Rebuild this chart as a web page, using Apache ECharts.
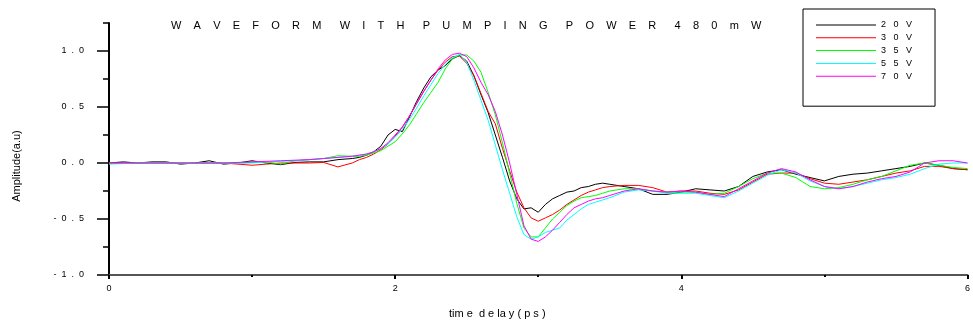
<!DOCTYPE html>
<html><head><meta charset="utf-8">
<script src="https://cdn.jsdelivr.net/npm/echarts@6/dist/echarts.min.js"></script>
<style>html,body{margin:0;padding:0;background:#fff}#c{width:973px;height:325px}</style>
</head><body><div id="c"></div>
<script>
// time delay (ps)
const timeDelay = [0,0.1,0.2,0.3,0.4,0.5,0.6,0.7,0.8,0.9,1.0,1.1,1.2,1.3,1.4,1.5,1.6,1.7,
1.75,1.8,1.85,1.9,1.95,2.0,2.05,2.1,2.15,2.2,2.25,2.3,2.35,2.4,2.45,2.5,2.55,2.6,2.65,2.7,2.75,2.8,2.85,2.9,2.95,3.0,3.05,3.1,3.15,3.2,3.25,3.3,3.35,3.4,3.45,3.5,
3.6,3.7,3.8,3.9,4.0,4.1,4.2,4.3,4.4,4.5,4.6,4.7,4.8,4.9,5.0,5.1,5.2,5.3,5.4,5.5,5.6,5.7,5.8,5.9,6.0];

const amp20V = [0,0.01,0,0.01,0.01,-0.01,0,0.02,-0.01,0,0.02,0,-0.015,0.005,0.01,0.01,0.03,0.04,
0.05,0.07,0.10,0.15,0.25,0.30,0.28,0.41,0.55,0.67,0.77,0.83,0.87,0.93,0.96,0.91,0.78,0.61,0.45,0.25,0.05,-0.16,-0.32,-0.41,-0.40,-0.44,-0.37,-0.32,-0.29,-0.26,-0.25,-0.22,-0.21,-0.19,-0.18,-0.19,
-0.21,-0.23,-0.28,-0.28,-0.26,-0.23,-0.24,-0.25,-0.21,-0.12,-0.08,-0.06,-0.10,-0.13,-0.16,-0.12,-0.10,-0.09,-0.07,-0.05,-0.03,0.0,-0.02,-0.05,-0.06];

const amp30V = [0,0,0,0,0,0,0,0,0,-0.01,-0.02,-0.01,0,0,0,0.005,-0.035,0.0,
0.03,0.05,0.08,0.12,0.17,0.24,0.32,0.42,0.53,0.64,0.74,0.83,0.90,0.95,0.955,0.89,0.78,0.62,0.46,0.35,0.13,-0.07,-0.26,-0.40,-0.49,-0.52,-0.49,-0.46,-0.42,-0.37,-0.33,-0.29,-0.26,-0.24,-0.22,-0.21,
-0.20,-0.20,-0.22,-0.26,-0.25,-0.25,-0.27,-0.28,-0.24,-0.17,-0.10,-0.09,-0.09,-0.14,-0.18,-0.19,-0.17,-0.15,-0.12,-0.09,-0.07,-0.03,-0.03,-0.05,-0.06];

const amp35V = [0,-0.005,0,0,0,0,-0.005,0,0,0,0.005,0.01,-0.01,0.02,0.03,0.04,0.065,0.06,
0.06,0.07,0.09,0.11,0.15,0.19,0.26,0.34,0.44,0.54,0.63,0.72,0.84,0.93,0.965,0.965,0.91,0.81,0.63,0.43,0.18,-0.09,-0.36,-0.58,-0.66,-0.66,-0.58,-0.50,-0.44,-0.38,-0.34,-0.31,-0.30,-0.29,-0.27,-0.25,
-0.23,-0.23,-0.25,-0.26,-0.26,-0.26,-0.28,-0.27,-0.21,-0.14,-0.09,-0.09,-0.13,-0.21,-0.23,-0.22,-0.19,-0.15,-0.12,-0.07,-0.02,0.0,-0.02,-0.04,-0.05];

const amp55V = [-0.01,-0.005,0,0,0,0,0,0,0,0,0,0.01,0.015,0.02,0.03,0.04,0.05,0.06,
0.07,0.08,0.10,0.13,0.17,0.23,0.30,0.39,0.49,0.60,0.70,0.80,0.88,0.94,0.97,0.90,0.74,0.56,0.38,0.16,-0.06,-0.27,-0.48,-0.64,-0.68,-0.66,-0.62,-0.60,-0.58,-0.51,-0.46,-0.41,-0.37,-0.35,-0.33,-0.31,
-0.26,-0.24,-0.25,-0.27,-0.27,-0.27,-0.29,-0.31,-0.25,-0.18,-0.11,-0.06,-0.09,-0.16,-0.21,-0.23,-0.21,-0.18,-0.15,-0.13,-0.10,-0.05,-0.01,0.0,0.0];

const amp70V = [0,0,0,0,0,0,0,0,0,0.005,0.01,0.015,0.02,0.025,0.03,0.04,0.05,0.06,
0.07,0.08,0.10,0.13,0.18,0.25,0.32,0.42,0.53,0.64,0.74,0.84,0.92,0.97,0.98,0.95,0.85,0.72,0.61,0.46,0.25,0.0,-0.28,-0.56,-0.68,-0.70,-0.66,-0.60,-0.53,-0.46,-0.40,-0.37,-0.34,-0.32,-0.31,-0.29,
-0.25,-0.23,-0.25,-0.26,-0.25,-0.26,-0.28,-0.30,-0.23,-0.16,-0.09,-0.05,-0.08,-0.15,-0.21,-0.23,-0.21,-0.17,-0.14,-0.12,-0.08,0.0,0.02,0.02,0.0];

const seriesNames = ['20V','30V','35V','55V','70V'];
const seriesColors = ['#000000','#ff0000','#00ff00','#00ffff','#ff00ff'];
const seriesValues = [amp20V, amp30V, amp35V, amp55V, amp70V];

const yMajorTicks = [-1,-0.5,0,0.5,1];
const yMinorTicks = [-0.75,-0.25,0.25,0.75,1.25];

const titleWords = ['WAVEFORM','WITH','PUMPING','POWER','480mW'];
const xName = 'tim e  d e la y ( p s )';
const yName = 'Amplitude(a.u)';

function spaced(s, n){ return s.split('').join(' '.repeat(n)); }
const FONT = '"Liberation Sans", Arial, sans-serif';

const chart = echarts.init(document.getElementById('c'), null, {renderer:'canvas'});
chart.setOption({
  animation:false,
  backgroundColor:'#fff',
  title:{text:titleWords.map(w=>spaced(w,4)).join(' '.repeat(6)), left:171, top:20, padding:0,
    textStyle:{fontSize:11, fontWeight:'normal', color:'#000', fontFamily:FONT}},
  legend:{orient:'vertical', left:803, top:9, padding:[11,23,25,13],
    icon:'rect', itemWidth:60, itemHeight:1, itemGap:2.8, borderColor:'#000', borderWidth:1,
    backgroundColor:'#fff',
    formatter:n=>spaced(n,3),
    textStyle:{fontSize:9, color:'#000', lineHeight:10, fontFamily:FONT},
    data:seriesNames},
  grid:{left:109, right:0, top:23, bottom:50, containLabel:false},
  graphic:[{type:'text', x:17, y:166, rotation:Math.PI/2,
    style:{text:yName, fill:'#000', font:'11px '+FONT, align:'center', verticalAlign:'middle'}}],
  xAxis:{type:'value', min:0, max:6, interval:2,
    name:xName, nameLocation:'middle', nameGap:33,
    nameTextStyle:{fontSize:11, color:'#000', fontFamily:FONT, padding:[0,82,0,0]},
    axisLine:{onZero:false, lineStyle:{color:'#555', width:2}},
    axisTick:{length:4, lineStyle:{color:'#000', width:2}},
    minorTick:{show:true, splitNumber:2, length:2, lineStyle:{color:'#000', width:2}},
    axisLabel:{fontSize:9, margin:9, color:'#000', fontFamily:FONT},
    splitLine:{show:false}},
  yAxis:[{type:'value', min:-1, max:1.25,
    axisLine:{show:true, onZero:false, lineStyle:{color:'#000', width:2}},
    axisTick:{show:true, length:12, customValues:yMajorTicks, lineStyle:{color:'#000', width:1.5}},
    axisLabel:{customValues:yMajorTicks, formatter:v=>spaced(v.toFixed(1),2), margin:25,
      fontSize:9, color:'#000', fontFamily:FONT},
    splitLine:{show:false}},
   {type:'value', min:-1, max:1.25, position:'left',
    axisLine:{show:false},
    axisTick:{show:true, length:6, customValues:yMinorTicks, lineStyle:{color:'#000', width:1.5}},
    axisLabel:{show:false}, splitLine:{show:false}}],
  series:seriesNames.map((n,i)=>({
    name:n, type:'line', yAxisIndex:0, symbol:'none', showSymbol:false,
    lineStyle:{color:seriesColors[i], width:1}, itemStyle:{color:seriesColors[i]},
    data:timeDelay.map((x,j)=>[x, seriesValues[i][j]])
  }))
});
</script>
</body></html>
